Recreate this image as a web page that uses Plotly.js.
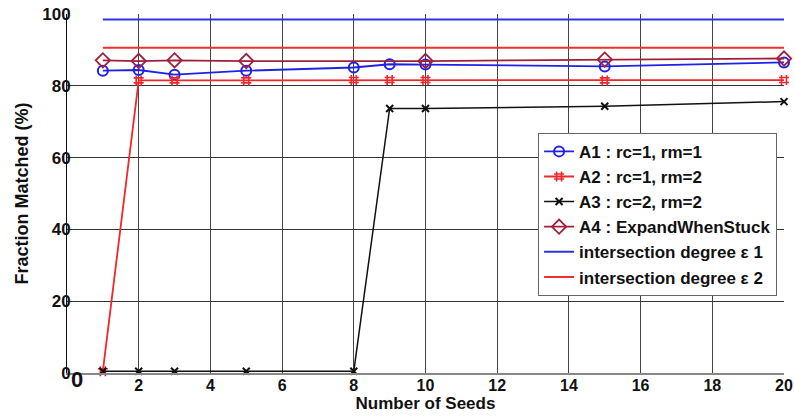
<!DOCTYPE html>
<html>
<head>
<meta charset="utf-8">
<script src="https://cdn.plot.ly/plotly-3.0.1.min.js"></script>
<style>html,body{margin:0;padding:0;background:#fff;}#chart{width:794px;height:416px;}</style>
</head>
<body>
<div id="chart"></div>
<script>
// Data
const seedsA1 = [1, 2, 3, 5, 8, 9, 10, 15, 20];
const valsA1  = [84.2, 84.4, 83.1, 84.2, 85.1, 86.0, 85.9, 85.4, 86.5];
const seedsA2 = [1, 2, 3, 5, 8, 9, 10, 15, 20];
const valsA2  = [0.5, 81.5, 81.5, 81.5, 81.6, 81.6, 81.6, 81.5, 81.6];
const seedsA3 = [1, 2, 3, 5, 8, 9, 10, 15, 20];
const valsA3  = [0.5, 0.5, 0.5, 0.5, 0.5, 73.7, 73.7, 74.3, 75.6];
const seedsA4 = [1, 2, 3, 5, 10, 15, 20];
const valsA4  = [87.1, 86.9, 87.1, 86.9, 86.9, 87.3, 87.6];
const seedsDeg = [1, 20];
const valsDeg1 = [98.5, 98.5];
const valsDeg2 = [90.6, 90.6];
const names = ["<b>A1 : rc=1, rm=1</b>", "<b>A2 : rc=1, rm=2</b>", "<b>A3 : rc=2, rm=2</b>",
               "<b>A4 : ExpandWhenStuck</b>", "<b>intersection degree ε 1</b>", "<b>intersection degree ε 2</b>"];
const xTicks = [2, 4, 6, 8, 10, 12, 14, 16, 18, 20];
const yTicks = [0, 20, 40, 60, 80, 100];

const FONT = "Liberation Sans, Arial, sans-serif";
const traces = [
  {x: seedsA1, y: valsA1, name: names[0], mode: "lines+markers",
   line: {color: "#1f22e6", width: 1.8},
   marker: {symbol: "circle-open", size: 10, color: "#1f22e6", line: {width: 2}}},
  {x: seedsA2, y: valsA2, name: names[1], mode: "lines+markers",
   line: {color: "#f0262a", width: 1.8},
   marker: {symbol: "hash-open", size: 10, color: "#f0262a", line: {width: 1.6}}},
  {x: seedsA3, y: valsA3, name: names[2], mode: "lines+markers",
   line: {color: "#111111", width: 1.5},
   marker: {symbol: "x-thin-open", size: 7, color: "#111111", line: {width: 2}}},
  {x: seedsA4, y: valsA4, name: names[3], mode: "lines+markers",
   line: {color: "#a0203c", width: 1.8},
   marker: {symbol: "diamond-open", size: 11, color: "#a0203c", line: {width: 1.8}}},
  {x: seedsDeg, y: valsDeg1, name: names[4], mode: "lines",
   line: {color: "#2d33dd", width: 2}},
  {x: seedsDeg, y: valsDeg2, name: names[5], mode: "lines",
   line: {color: "#ef3030", width: 2}}
];
traces.forEach(t => t.cliponaxis = false);

const layout = {
  width: 794, height: 416,
  margin: {l: 67, r: 10, t: 14, b: 43},
  paper_bgcolor: "#fff", plot_bgcolor: "#fff",
  font: {family: FONT, color: "#111", size: 15},
  showlegend: true,
  legend: {
    x: 0.657, y: 0.669, xanchor: "left", yanchor: "top",
    bgcolor: "#fff", bordercolor: "#666", borderwidth: 1,
    font: {family: FONT, size: 17, color: "#111"},
    itemwidth: 30, tracegroupgap: 0
  },
  xaxis: {
    range: [0, 20], tickvals: xTicks, ticktext: xTicks.map(v => "<b>" + v + "</b>"),
    showgrid: true, gridcolor: "#444", gridwidth: 1,
    showline: true, linecolor: "#888", linewidth: 2,
    zeroline: false, ticks: "", mirror: false,
    ticklabelstandoff: -3,
    tickfont: {family: FONT, size: 16, color: "#111"},
    title: {text: "<b>Number of Seeds</b>", font: {family: FONT, size: 17, color: "#111"}, standoff: 4}
  },
  yaxis: {
    range: [0, 100], tickvals: yTicks, ticktext: yTicks.map(v => "<b>" + v + "</b>"),
    showgrid: true, gridcolor: "#333", gridwidth: 1,
    showline: true, linecolor: "#111", linewidth: 1,
    zeroline: false, ticks: "",
    ticklabelstandoff: -8,
    tickfont: {family: FONT, size: 17, color: "#111"},
    title: {text: "<b>Fraction Matched (%)</b>", font: {family: FONT, size: 18, color: "#111"}, standoff: 8}
  },
  annotations: [
    {x: 0, y: 0, xref: "x", yref: "y", text: "<b>0</b>", showarrow: false,
     xanchor: "left", yanchor: "middle", xshift: 2, yshift: -6,
     font: {family: FONT, size: 22, color: "#111"}}
  ]
};

Plotly.newPlot("chart", traces, layout, {displayModeBar: false, staticPlot: true});
</script>
</body>
</html>
